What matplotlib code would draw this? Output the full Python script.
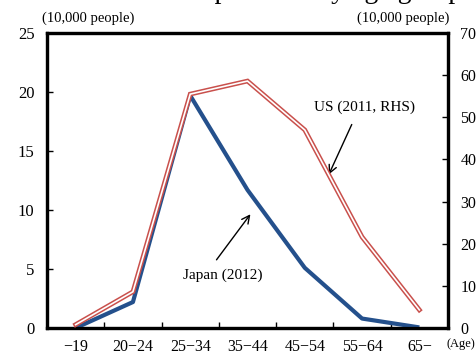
import matplotlib.pyplot as plt

# Age groups and number of entrepreneurs (10,000 people)
age_groups = ["\u221219", "20\u221224", "25\u221234", "35\u221244", "45\u221254", "55\u221264", "65\u2212"]
japan_2012 = [0.0, 2.2, 19.7, 11.7, 5.1, 0.8, 0.05]
us_2011 = [0.8, 8.6, 55.5, 58.6, 47.0, 21.6, 4.3]

plt.rcParams['font.family'] = ['Liberation Serif', 'DejaVu Serif']

fig = plt.figure(figsize=(4.77, 3.56), dpi=100)
ax = fig.add_axes([47 / 477, 28 / 356, 401 / 477, 295 / 356])
ax2 = ax.twinx()

x = list(range(len(age_groups)))

# Japan on the left axis
ax.plot(x, japan_2012, color='#24508C', lw=3.0, solid_capstyle='butt', zorder=3)

# US on the right axis, drawn as a hollow double line
ax2.plot(x, us_2011, color='#C9504C', lw=3.4, solid_joinstyle='miter', zorder=3)
ax2.plot(x, us_2011, color='white', lw=1.2, solid_joinstyle='miter', zorder=4)

ax.set_xlim(-0.5, len(age_groups) - 0.5)
ax.set_ylim(0, 25)
ax2.set_ylim(0, 70)
ax.set_yticks(range(0, 26, 5))
ax2.set_yticks(range(0, 71, 10))

ax.set_xticks(x)
ax.set_xticklabels(age_groups)
ax.set_xticks([i + 0.5 for i in x[:-1]], minor=True)
ax.tick_params(axis='x', which='major', length=0, pad=8, labelsize=11.5)
ax.tick_params(axis='x', which='minor', direction='in', length=4, width=1)
ax.tick_params(axis='y', direction='in', length=4, width=1, pad=9, labelsize=12)
ax2.tick_params(axis='y', direction='in', length=4, width=1, pad=9, labelsize=11.5)

for a in (ax, ax2):
    for s in a.spines.values():
        s.set_linewidth(2.3)
        s.set_color('black')

# Unit labels
fig.text(88 / 477, 1 - 18 / 356, "(10,000 people)", ha='center', va='center', fontsize=10.5)
fig.text(403 / 477, 1 - 18 / 356, "(10,000 people)", ha='center', va='center', fontsize=10.5)
fig.text(447 / 477, 1 - 344 / 356, "(Age)", ha='left', va='center', fontsize=9)

# Title, running off the top of the figure
fig.text(462 / 477, 1 + 2.5 / 356, "Number of entrepreneurs by age group",
         ha='right', va='baseline', fontsize=20)

# Series labels with arrows
ax.annotate("", xy=(3.08, 9.83), xytext=(2.43, 5.59),
            arrowprops=dict(arrowstyle='->', color='black', lw=1, mutation_scale=14))
ax.text(2.57, 4.49, "Japan (2012)", ha='center', va='center', fontsize=11)

ax.annotate("", xy=(4.40, 12.8), xytext=(4.84, 17.46),
            arrowprops=dict(arrowstyle='->', color='black', lw=1, mutation_scale=14))
ax.text(5.05, 18.73, "US (2011, RHS)", ha='center', va='center', fontsize=11)

fig.savefig("out.png", dpi=100)
